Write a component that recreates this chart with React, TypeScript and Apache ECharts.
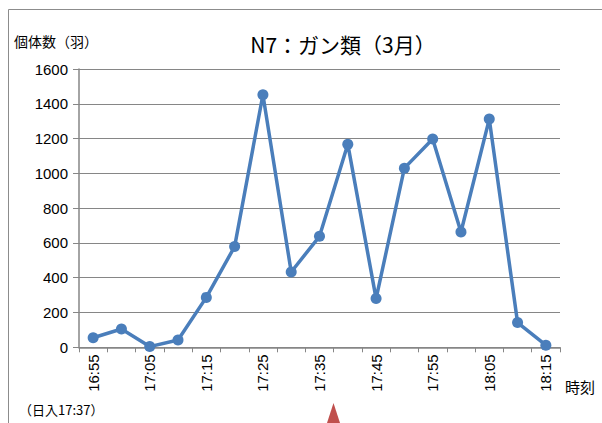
import React, { useEffect, useRef } from "react";
import * as echarts from "echarts";

const categories = ["16:55","17:00","17:05","17:10","17:15","17:20","17:25","17:30","17:35","17:40","17:45","17:50","17:55","18:00","18:05","18:10","18:15"];
const counts = [55, 105, 4, 42, 287, 579, 1452, 433, 638, 1168, 280, 1030, 1198, 663, 1312, 142, 12];
const yTicks = { min: 0, max: 1600, interval: 200 };

export default function App() {
  const ref = useRef<HTMLDivElement>(null);
  useEffect(() => {
    document.body.style.margin = "0";
    const chart = echarts.init(ref.current!, null, { renderer: "svg" });
    const font = "'Liberation Sans', 'Noto Sans CJK JP', sans-serif";
    const cjk = "'Noto Sans CJK JP', 'Liberation Sans', sans-serif";
    chart.setOption({
      animation: false,
      backgroundColor: "#ffffff",
      title: {
        text: "N7：ガン類（3月）",
        left: 338,
        top: 28,
        textAlign: "center",
        textStyle: { fontFamily: cjk, fontSize: 21, fontWeight: "normal", color: "#000" },
      },
      grid: { left: 79, top: 69, right: 42, bottom: 75.7, containLabel: false },
      xAxis: {
        type: "category",
        data: categories,
        boundaryGap: true,
        axisLine: { lineStyle: { color: "#868686", width: 1.5 } },
        axisTick: { show: true, alignWithLabel: false, interval: 0, length: 5, lineStyle: { color: "#868686" } },
        axisLabel: { interval: 1, rotate: 90, fontSize: 15, color: "#000", fontFamily: font, margin: 7 },
        name: "時刻",
        nameLocation: "end",
        nameGap: 5,
        nameTextStyle: { fontFamily: cjk, fontSize: 15, color: "#000", verticalAlign: "top", padding: [32, 0, 0, 0] },
      },
      yAxis: {
        type: "value",
        min: yTicks.min,
        max: yTicks.max,
        interval: yTicks.interval,
        axisLine: { show: true, lineStyle: { color: "#868686", width: 1.5 } },
        axisTick: { show: true, length: 6, lineStyle: { color: "#868686" } },
        splitLine: { lineStyle: { color: "#868686", width: 1 } },
        axisLabel: { fontSize: 15, color: "#000", fontFamily: font, margin: 11, formatter: (v: number) => String(v) },
      },
      series: [
        {
          type: "line",
          data: counts,
          symbol: "circle",
          symbolSize: 11,
          lineStyle: { color: "#4A7EBB", width: 3.5 },
          itemStyle: { color: "#4A7EBB" },
        },
      ],
      graphic: [
        { type: "rect", shape: { x: 8.5, y: 9.5, width: 620, height: 430 }, style: { fill: "none", stroke: "#8c8c8c", lineWidth: 1 } },
        { type: "text", left: 14, top: 34, style: { text: "個体数（羽）", fontFamily: cjk, fontSize: 14, fill: "#000" } },
        { type: "text", left: 19, top: 403, style: { text: "（日入17:37）", fontFamily: cjk, fontSize: 13, fill: "#000" } },
        { type: "polygon", shape: { points: [[333.5, 403], [327, 423], [340, 423]] }, style: { fill: "#C0504D" } },
      ],
    });
    return () => chart.dispose();
  }, []);
  return <div ref={ref} style={{ width: 602, height: 423 }} />;
}
